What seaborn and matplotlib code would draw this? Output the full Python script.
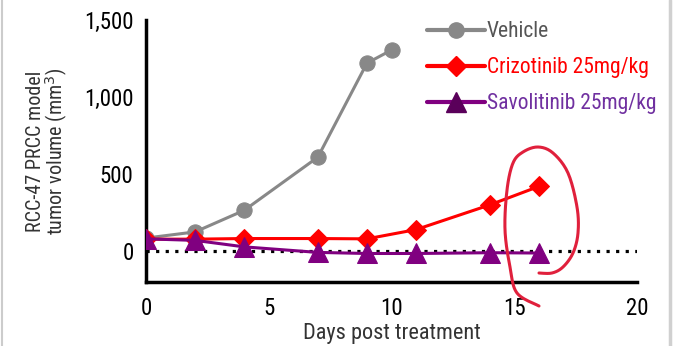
import numpy as np
import pandas as pd
import matplotlib
matplotlib.use("Agg")
import matplotlib.pyplot as plt
import seaborn as sns
from matplotlib.lines import Line2D
from matplotlib import font_manager

# ---- data ----
vehicle_days = [0, 2, 4, 7, 9, 10]
vehicle_vol = [85, 125, 265, 610, 1220, 1305]
crizo_days = [0, 2, 4, 7, 9, 11, 14, 16]
crizo_vol = [78, 78, 82, 82, 80, 140, 300, 420]
savo_days = [0, 2, 4, 7, 9, 11, 14, 16]
savo_vol = [80, 70, 28, -8, -15, -15, -10, -12]
series_names = ["Vehicle", "Crizotinib 25mg/kg", "Savolitinib 25mg/kg"]
x_ticks = [0, 5, 10, 15, 20]
y_ticks = [0, 500, 1000, 1500]
y_ticklabels = ["0", "500", "1,000", "1,500"]

sns.set_style("white")
available = {f.name for f in font_manager.fontManager.ttflist}
fams = [f for f in ["Roboto Condensed", "Fira Sans Condensed", "Liberation Sans Narrow",
                    "Lato", "DejaVu Sans"] if f in available]
plt.rcParams['font.family'] = fams

W, H = 674, 346
fig = plt.figure(figsize=(W/100, H/100), dpi=100)
L, R, T, B = 146, 637, 20, 282
ax = fig.add_axes([L/W, 1-B/H, (R-L)/W, (B-T)/H])

df = pd.concat([
    pd.DataFrame({"day": vehicle_days, "vol": vehicle_vol, "grp": series_names[0]}),
    pd.DataFrame({"day": crizo_days, "vol": crizo_vol, "grp": series_names[1]}),
    pd.DataFrame({"day": savo_days, "vol": savo_vol, "grp": series_names[2]}),
])

colors = ["#888888", "#FF0000", "#800080"]
markers = ["o", "D", "^"]
msizes = [11, 10, 14]
for name, c, m, ms in zip(series_names, colors, markers, msizes):
    sub = df[df.grp == name]
    sns.lineplot(data=sub, x="day", y="vol", ax=ax, color=c, marker=m,
                 markersize=ms, markeredgecolor=c, linewidth=2.2, zorder=3,
                 legend=False)

ax.plot([0, 20], [0, 0], linestyle=(0, (1, 2.0)), color="black", linewidth=2.3, zorder=2)

ax.set_xlim(0, 20)
ax.set_ylim(-200, 1500)
ax.set_xticks(x_ticks)
ax.set_yticks(y_ticks)
ax.set_yticklabels(y_ticklabels)
for s in ["top", "right"]:
    ax.spines[s].set_visible(False)
for s in ["left", "bottom"]:
    ax.spines[s].set_linewidth(2.5)
    ax.spines[s].set_color("black")
ax.tick_params(axis="y", direction="out", length=6, width=2.5, color="black",
               labelsize=16.5, labelcolor="black", pad=3)
ax.tick_params(axis="x", direction="out", length=7, width=2.5, color="black",
               labelsize=16.5, labelcolor="black", pad=4)
ax.set_xlabel("Days post treatment", fontsize=16, color="#333333", labelpad=2)
ax.set_ylabel("RCC-47 PRCC model\ntumor volume (mm$^3$)", fontsize=14.5,
              color="#333333", labelpad=10, linespacing=0.95)
ax.patch.set_alpha(0)

handles = [
    Line2D([], [], color="#888888", marker="o", markersize=11, linewidth=3),
    Line2D([], [], color="#FF0000", marker="D", markersize=10, linewidth=3),
    Line2D([], [], color="#800080", marker="^", markersize=14, linewidth=3,
           markerfacecolor="#5a005a", markeredgecolor="#5a005a"),
]
leg = ax.legend(handles, series_names, loc="upper left",
                bbox_to_anchor=((427-L)/(R-L), 0.995),
                frameon=False, fontsize=15.5, handlelength=2.7, handletextpad=0.08,
                labelspacing=0.7, borderaxespad=0, borderpad=0,
                labelcolor=["#555555", "#FF0000", "#7030A0"])

# hand-drawn red loop annotation (figure pixel coordinates)
pts = np.array([(539, 306), (517, 293), (510, 267), (505, 230), (507, 190),
                (513, 163), (523, 152), (538, 147), (553, 153), (568, 173),
                (577, 207), (578, 233), (573, 253), (563, 267), (552, 273),
                (539, 273)], dtype=float)
def catmull(p, n=12):
    out = []
    P = np.vstack([p[0], p, p[-1]])
    for i in range(1, len(P) - 2):
        p0, p1, p2, p3 = P[i-1], P[i], P[i+1], P[i+2]
        for t in np.linspace(0, 1, n, endpoint=False):
            t2, t3 = t*t, t*t*t
            out.append(0.5*((2*p1) + (-p0+p2)*t + (2*p0-5*p1+4*p2-p3)*t2 + (-p0+3*p1-3*p2+p3)*t3))
    out.append(P[-2])
    return np.array(out)
c = catmull(pts)
fig.add_artist(Line2D(c[:, 0]/W, 1 - c[:, 1]/H, transform=fig.transFigure,
                      color="#E0203C", linewidth=2.2, solid_capstyle="round", zorder=5))

# screenshot frame lines
fig.add_artist(Line2D([2/W, 2/W], [0, 1], transform=fig.transFigure, color="#cccccc", linewidth=1.5))
fig.add_artist(Line2D([670/W, 670/W], [0, 1], transform=fig.transFigure, color="#d0d0d0", linewidth=2.5))

fig.savefig("out.png", dpi=100)
